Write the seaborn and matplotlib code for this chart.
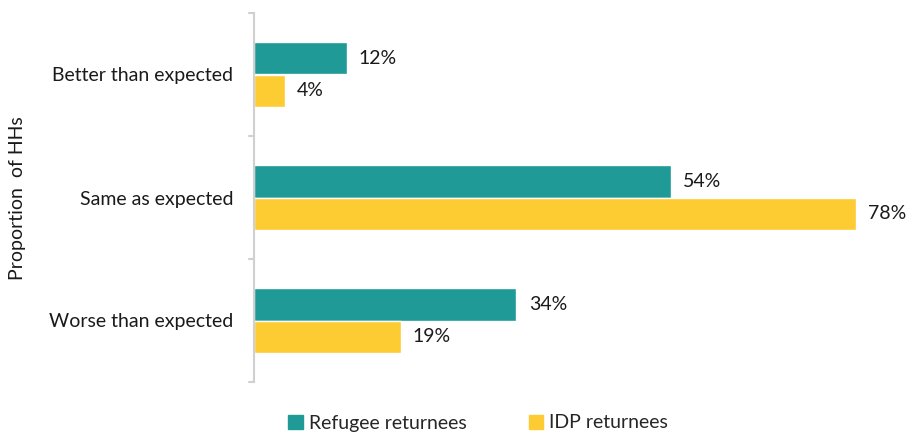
import pandas as pd
import seaborn as sns
import matplotlib.pyplot as plt

categories = ["Better than expected", "Same as expected", "Worse than expected"]
refugee = [0.12, 0.54, 0.34]
idp = [0.04, 0.78, 0.19]
groups = ["Refugee returnees", "IDP returnees"]
colors = ["#1f9a97", "#fdcc33"]

df = pd.DataFrame({
    "category": categories * 2,
    "group": [groups[0]] * 3 + [groups[1]] * 3,
    "value": refugee + idp,
})

sns.set_style("white")
plt.rcParams["font.family"] = ["Lato", "DejaVu Sans"]

fig = plt.figure(figsize=(9.07, 4.34), dpi=100)
ax = fig.add_axes([254 / 907, 1 - 382 / 434, 648 / 907, 369 / 434])

sns.barplot(data=df, y="category", x="value", hue="group", order=categories,
            hue_order=groups, palette=colors, orient="h", width=0.53,
            saturation=1, ax=ax, legend=False)

ax.set_xlim(0, 0.84)
ax.set_ylim(2.5, -0.5)

for container in ax.containers:
    for bar in container:
        w = bar.get_width()
        ax.text(w + 0.016, bar.get_y() + bar.get_height() / 2, f"{w * 100:.0f}%",
                va="center", ha="left", fontsize=14, color="#1a1a1a", clip_on=False)

# only the left spine, with small ticks between the categories
for s in ["top", "right", "bottom"]:
    ax.spines[s].set_visible(False)
ax.spines["left"].set_color("#d0d0d0")
ax.spines["left"].set_linewidth(1.5)
ax.set_xticks([])
ax.set_yticks([0, 1, 2])
ax.set_yticklabels(categories, fontsize=14, color="#1a1a1a")
ax.tick_params(axis="y", length=0, pad=15)
for yb in [-0.5, 0.5, 1.5, 2.5]:
    ax.plot([-0.008, 0], [yb, yb], color="#d0d0d0", lw=1.5, clip_on=False,
            transform=ax.get_yaxis_transform())
ax.set_xlabel("")
ax.set_ylabel("")
fig.text(18 / 907, 1 - 198 / 434, "Proportion  of HHs", rotation=90,
         va="center", ha="center", fontsize=14, color="#1a1a1a")

handles = [plt.Rectangle((0, 0), 1, 1, color=c) for c in colors]
fig.legend(handles, groups, loc="center", bbox_to_anchor=(478 / 907, 1 - 423 / 434),
           ncol=2, frameon=False, fontsize=14, handlelength=0.75, handleheight=0.75,
           columnspacing=3.2, handletextpad=0.3)

fig.savefig("out.png", dpi=100)
